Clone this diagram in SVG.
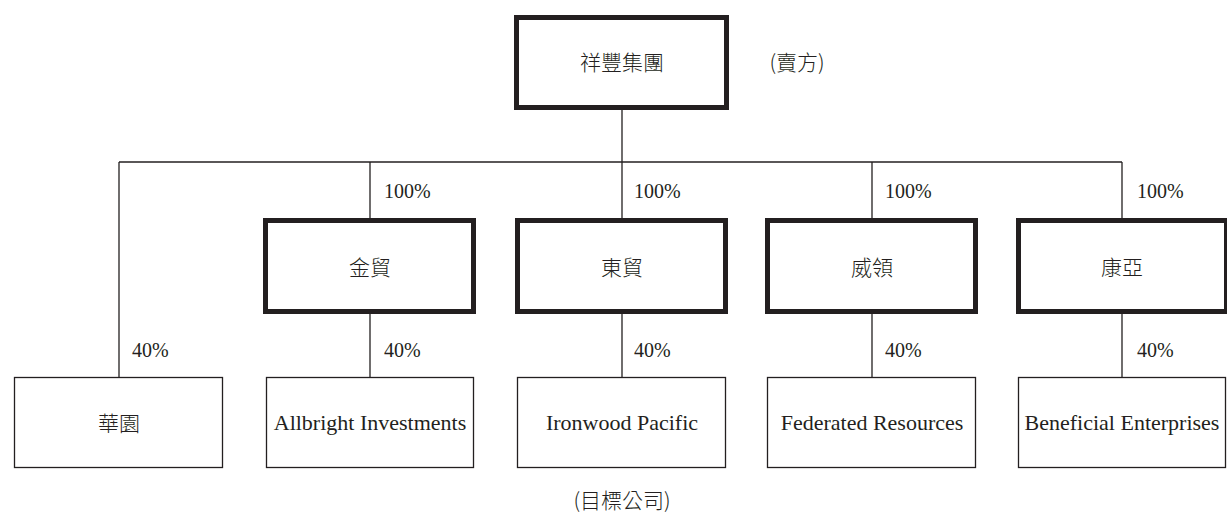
<svg xmlns="http://www.w3.org/2000/svg" width="1227" height="523" viewBox="0 0 1227 523">
<style>
.thick{fill:#fff;stroke:#231f20;stroke-width:5}
.thin{fill:#fff;stroke:#231f20;stroke-width:1.3}
.ln{stroke:#231f20;stroke-width:1.3;fill:none}
.cjk{font-family:"Noto Sans CJK TC","Noto Sans CJK SC",sans-serif;font-size:21px;font-weight:300;fill:#231f20;text-anchor:middle;dominant-baseline:central}
.en{font-family:"Liberation Serif",serif;font-size:22px;fill:#231f20;text-anchor:middle;dominant-baseline:central}
.pct{font-family:"Liberation Serif",serif;font-size:20px;fill:#231f20}
</style>
<rect width="1227" height="523" fill="#fff"/>
<g id="connectors">
<line class="ln" x1="622" y1="110" x2="622" y2="162"/>
<line class="ln" x1="119" y1="162" x2="1122" y2="162"/>
<line class="ln" x1="119" y1="162" x2="119" y2="377"/>
<line class="ln" x1="370" y1="162" x2="370" y2="218"/>
<line class="ln" x1="622" y1="162" x2="622" y2="218"/>
<line class="ln" x1="872" y1="162" x2="872" y2="218"/>
<line class="ln" x1="1122" y1="162" x2="1122" y2="218"/>
<line class="ln" x1="370" y1="314" x2="370" y2="377"/>
<line class="ln" x1="622" y1="314" x2="622" y2="377"/>
<line class="ln" x1="872" y1="314" x2="872" y2="377"/>
<line class="ln" x1="1122" y1="314" x2="1122" y2="377"/>
<text class="pct" x="384" y="198">100%</text>
<text class="pct" x="634" y="198">100%</text>
<text class="pct" x="885" y="198">100%</text>
<text class="pct" x="1137" y="198">100%</text>
<text class="pct" x="132" y="357">40%</text>
<text class="pct" x="384" y="357">40%</text>
<text class="pct" x="634" y="357">40%</text>
<text class="pct" x="885" y="357">40%</text>
<text class="pct" x="1137" y="357">40%</text>
</g>
<g id="seller">
<rect class="thick" x="516.5" y="17.5" width="210" height="90"/>
<text class="cjk" x="622" y="61">祥豐集團</text>
</g>
<text class="cjk" x="797" y="61">(賣方)</text>
<g id="jinmao"><rect class="thick" x="265.5" y="220.5" width="208" height="91"/><text class="cjk" x="370" y="266">金貿</text></g>
<g id="dongmao"><rect class="thick" x="517.5" y="220.5" width="208" height="91"/><text class="cjk" x="622" y="266">東貿</text></g>
<g id="weiling"><rect class="thick" x="767.5" y="220.5" width="208" height="91"/><text class="cjk" x="872" y="266">威領</text></g>
<g id="kangya"><rect class="thick" x="1018.5" y="220.5" width="208" height="91"/><text class="cjk" x="1122" y="266">康亞</text></g>
<g id="huayuan"><rect class="thin" x="14.5" y="377.5" width="208" height="90"/><text class="cjk" x="119" y="422">華園</text></g>
<g id="allbright"><rect class="thin" x="266.5" y="377.5" width="207" height="90"/><text class="en" x="370" y="422">Allbright Investments</text></g>
<g id="ironwood"><rect class="thin" x="517.5" y="377.5" width="208" height="90"/><text class="en" x="622" y="422">Ironwood Pacific</text></g>
<g id="federated"><rect class="thin" x="767.5" y="377.5" width="208" height="90"/><text class="en" x="872" y="422">Federated Resources</text></g>
<g id="beneficial"><rect class="thin" x="1018.5" y="377.5" width="207" height="90"/><text class="en" x="1122" y="422">Beneficial Enterprises</text></g>
<text class="cjk" x="622" y="499">(目標公司)</text>
</svg>
